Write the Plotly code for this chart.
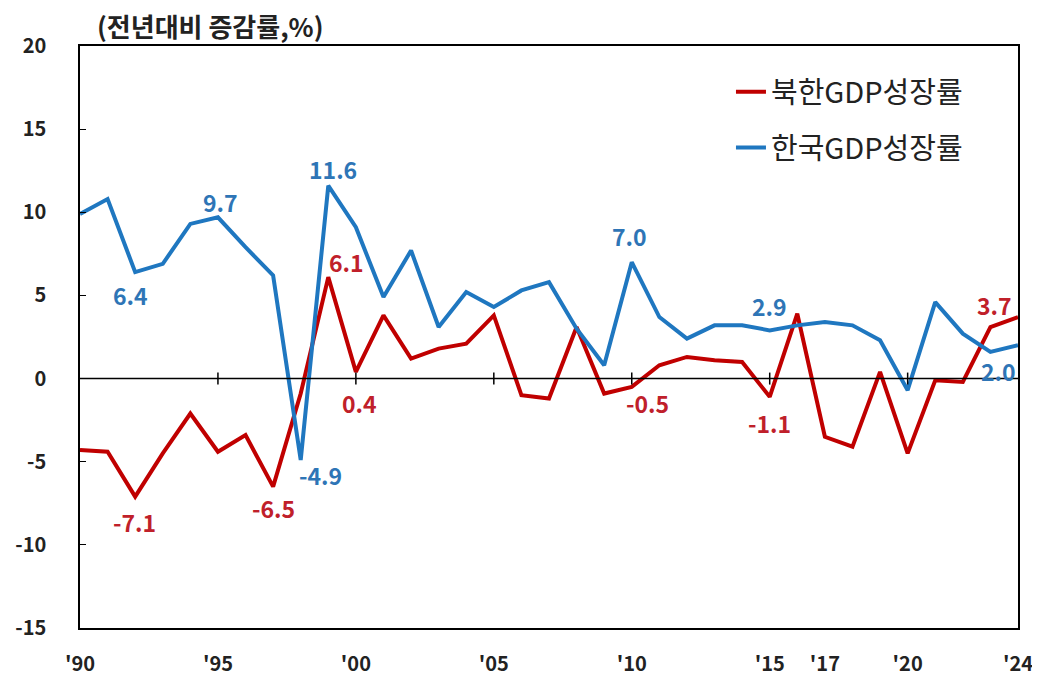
import plotly.graph_objects as go

years = list(range(1990, 2025))
nk_growth = [-4.3, -4.4, -7.1, -4.5, -2.1, -4.4, -3.4, -6.5, -0.9, 6.1,
             0.4, 3.8, 1.2, 1.8, 2.1, 3.8, -1.0, -1.2, 3.1, -0.9,
             -0.5, 0.8, 1.3, 1.1, 1.0, -1.1, 3.9, -3.5, -4.1, 0.4,
             -4.5, -0.1, -0.2, 3.1, 3.7]
kr_growth = [9.9, 10.8, 6.4, 6.9, 9.3, 9.7, 7.9, 6.2, -4.9, 11.6,
             9.1, 4.9, 7.7, 3.1, 5.2, 4.3, 5.3, 5.8, 3.0, 0.8,
             7.0, 3.7, 2.4, 3.2, 3.2, 2.9, 3.2, 3.4, 3.2, 2.3,
             -0.7, 4.6, 2.7, 1.6, 2.0]
tick_years = [1990, 1995, 2000, 2005, 2010, 2015, 2017, 2020, 2024]
tick_text = ["'90", "'95", "'00", "'05", "'10", "'15", "'17", "'20", "'24"]
y_ticks = [20, 15, 10, 5, 0, -5, -10, -15]
y_tick_text = ["20", "15", "10", "5", "0", "-5", "-10", "-15"]
zero_tick_years = [1995, 2000, 2005, 2010, 2015, 2020]

# labelled points: (year, text, xshift, yshift)
kr_labels = [(1992, "6.4", -5, -23), (1995, "9.7", 3, 15), (1999, "11.6", 5, 17),
             (1998, "-4.9", 20, -15), (2010, "7.0", -2, 26), (2015, "2.9", 0, 24),
             (2024, "2.0", -20, -26)]
nk_labels = [(1999, "6.1", 18, 15), (2000, "0.4", 4, -31), (1992, "-7.1", -1, -25),
             (1997, "-6.5", 0, -21), (2010, "-0.5", 16, -16), (2015, "-1.1", 0, -26),
             (2024, "3.7", -24, 12)]

RED = "#C00000"
BLUE = "#1F77C0"
FONT = "Noto Sans CJK KR"

fig = go.Figure()
fig.add_trace(go.Scatter(x=years, y=nk_growth, mode="lines", name="북한GDP성장률",
                         line=dict(color=RED, width=4), legendgroup="a"))
fig.add_trace(go.Scatter(x=years, y=kr_growth, mode="lines", name="한국GDP성장률",
                         line=dict(color=BLUE, width=4), legendgroup="b"))

kr_map = dict(zip(years, kr_growth))
nk_map = dict(zip(years, nk_growth))
for yr, txt, dx, dy in kr_labels:
    fig.add_annotation(x=yr, y=kr_map[yr], text=f"<b>{txt}</b>", showarrow=False,
                       xshift=dx, yshift=dy, font=dict(family=FONT, size=23, color="#2E75B6"))
for yr, txt, dx, dy in nk_labels:
    fig.add_annotation(x=yr, y=nk_map[yr], text=f"<b>{txt}</b>", showarrow=False,
                       xshift=dx, yshift=dy, font=dict(family=FONT, size=23, color="#C0202A"))

# zero line and its tick marks
fig.add_shape(type="line", xref="paper", yref="y", x0=0, x1=1, y0=0, y1=0,
              line=dict(color="black", width=1.5))
for yr in zero_tick_years:
    fig.add_shape(type="line", xref="x", yref="y", ysizemode="pixel", yanchor=0,
                  x0=yr, x1=yr, y0=-6, y1=6, line=dict(color="black", width=1.5))

fig.add_annotation(x=0.016, xref="paper", y=1.0, yref="paper", yshift=21,
                   text="<b>(전년대비 증감률,%)</b>", showarrow=False,
                   xanchor="left", yanchor="middle",
                   font=dict(family=FONT, size=26, color="#222"))

# page body adds an 8px offset, so the figure is sized to fit the window
fig.update_layout(
    width=1032, height=670, plot_bgcolor="white", paper_bgcolor="white",
    margin=dict(l=72, r=22, t=38, b=50, autoexpand=False),
    showlegend=True,
    legend=dict(x=0.694, y=0.965, xanchor="left", yanchor="top",
                font=dict(family=FONT, size=29, color="#222"),
                tracegroupgap=15, bgcolor="rgba(0,0,0,0)"),
    xaxis=dict(range=[1990, 2024], tickvals=tick_years, ticktext=tick_text,
               showgrid=False, zeroline=False, showline=True, mirror=True,
               linecolor="black", linewidth=1.5, ticks="outside", ticklen=17,
               tickcolor="rgba(0,0,0,0)", automargin=False,
               tickfont=dict(family=FONT, size=20, color="#222", weight="bold")),
    yaxis=dict(range=[-15, 20], tickvals=y_ticks, ticktext=y_tick_text,
               showgrid=False, zeroline=False,
               showline=True, mirror=True, linecolor="black", linewidth=1.5,
               ticks="inside", ticklen=6, tickcolor="black", ticklabelstandoff=28,
               automargin=False,
               tickfont=dict(family=FONT, size=20, color="#222", weight="bold")),
)

fig.write_html("out.html")
